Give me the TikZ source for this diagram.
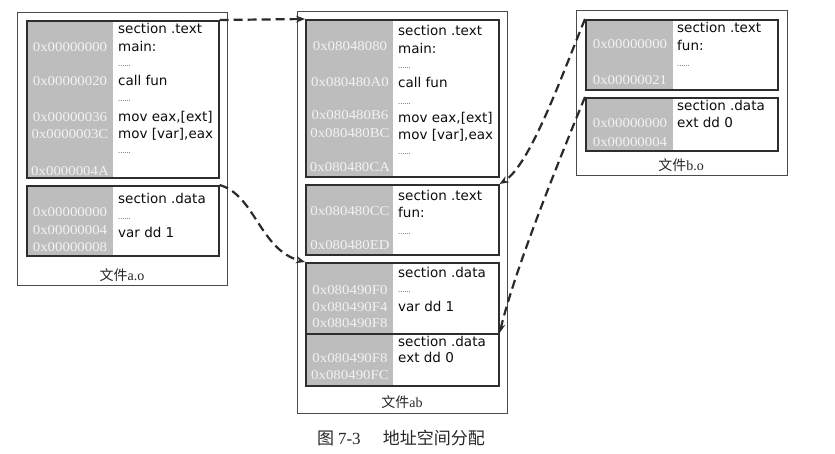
\documentclass[tikz,border=0pt]{standalone}
\usepackage{fontspec}
\setmainfont{Liberation Serif}
\newfontfamily\codefont{DejaVu Sans}
\newfontfamily\addrfont[FakeStretch=1.1]{Liberation Serif}
\newfontfamily\cjk{Noto Sans CJK SC}
\usetikzlibrary{arrows.meta}
\definecolor{graycol}{HTML}{BDBDBD}
\definecolor{addrc}{HTML}{F2F2F2}
\definecolor{boxc}{HTML}{2E2E2E}
\definecolor{outc}{HTML}{4A4A4A}
\definecolor{arrc}{HTML}{2A2A2A}
\tikzset{
  secbox/.style={draw=boxc, line width=1.6pt, anchor=north west, inner sep=0, fill=none},
  filebox/.style={draw=outc, line width=1.1pt, anchor=north west, inner sep=0},
  code/.style={anchor=west, inner sep=0, font=\codefont\fontsize{13.5}{16}\selectfont, text=black!95, text height=11pt, text depth=2pt},
  dots/.style={anchor=base west, inner sep=0, font=\codefont\fontsize{6.5}{7}\selectfont, text=black!85},
  addr/.style={anchor=center, inner sep=0, font=\addrfont\fontsize{13.5}{15}\selectfont, text=addrc, text height=9pt, text depth=0pt},
  lbl/.style={inner sep=0, font=\fontsize{14}{16}\selectfont, text=black!85},
  dasharrow/.style={draw=arrc, line width=2.2pt, dash pattern=on 9pt off 5pt, -{Stealth[length=9pt,width=7pt]}}
}
\begin{document}
\begin{tikzpicture}[x=1pt,y=-1pt]
\useasboundingbox (0,0) rectangle (835,454);
\fill[white] (0,0) rectangle (835,454);
% file boxes
\node[filebox, minimum width=210pt, minimum height=273pt] (afile) at (17,12) {};
\node[filebox, minimum width=210pt, minimum height=402pt] (mfile) at (297,11) {};
\node[filebox, minimum width=211pt, minimum height=165pt] (bfile) at (576,10) {};
% gray columns
\fill[graycol] (26,20) rectangle (113,177);
\fill[graycol] (26,185) rectangle (113,255);
\fill[graycol] (305,19) rectangle (393,176);
\fill[graycol] (305,184) rectangle (393,254);
\fill[graycol] (305,262) rectangle (393,333);
\fill[graycol] (305,333) rectangle (393,385);
\fill[graycol] (585,19) rectangle (673,89);
\fill[graycol] (585,97) rectangle (673,150);
% section boxes
\node[secbox, minimum width=192pt, minimum height=157pt] (atext) at (26,20) {};
\node[secbox, minimum width=192pt, minimum height=70pt] (adata) at (26,185) {};
\node[secbox, minimum width=193pt, minimum height=157pt] (mtext) at (305,19) {};
\node[secbox, minimum width=193pt, minimum height=70pt] (mfun) at (305,184) {};
\node[secbox, minimum width=193pt, minimum height=71pt] (mvar) at (305,262) {};
\node[secbox, minimum width=193pt, minimum height=52pt] (mext) at (305,333) {};
\node[secbox, minimum width=192pt, minimum height=70pt] (btext) at (585,19) {};
\node[secbox, minimum width=192pt, minimum height=53pt] (bdata) at (585,97) {};
% a.o text
\node[code] (a1) at (118,29) {section .text};
\node[code] (a2) at (118,47) {main:};
\node[dots] (a3) at (118,67) {......};
\node[code] (a4) at (118,81) {call fun};
\node[dots] (a5) at (118,102) {......};
\node[code] (a6) at (118,117) {mov eax,[ext]};
\node[code] (a7) at (118,134) {mov [var],eax};
\node[dots] (a8) at (118,154) {......};
\node[addr] (aa1) at (70,47) {0x00000000};
\node[addr] (aa2) at (70,81) {0x00000020};
\node[addr] (aa3) at (70,117) {0x00000036};
\node[addr] (aa4) at (70,134) {0x0000003C};
\node[addr] (aa5) at (70,171) {0x0000004A};
% a.o data
\node[code] (ad1) at (118,199) {section .data};
\node[dots] (ad2) at (118,220) {......};
\node[code] (ad3) at (118,233) {var dd 1};
\node[addr] (ada1) at (70,212) {0x00000000};
\node[addr] (ada2) at (70,230) {0x00000004};
\node[addr] (ada3) at (70,247) {0x00000008};
\node[lbl] (alab) at (122,275) {\cjk 文件\rmfamily a.o};
% ab text
\node[code] (m1) at (398,31) {section .text};
\node[code] (m2) at (398,49) {main:};
\node[dots] (m3) at (398,69) {......};
\node[code] (m4) at (398,83) {call fun};
\node[dots] (m5) at (398,105) {......};
\node[code] (m6) at (398,118) {mov eax,[ext]};
\node[code] (m7) at (398,135) {mov [var],eax};
\node[dots] (m8) at (398,155) {......};
\node[addr] (ma1) at (350,46) {0x08048080};
\node[addr] (ma2) at (350,82) {0x080480A0};
\node[addr] (ma3) at (350,115) {0x080480B6};
\node[addr] (ma4) at (350,133) {0x080480BC};
\node[addr] (ma5) at (350,167) {0x080480CA};
% ab fun
\node[code] (mf1) at (398,196) {section .text};
\node[code] (mf2) at (398,213) {fun:};
\node[dots] (mf3) at (398,235) {......};
\node[addr] (mfa1) at (350,211) {0x080480CC};
\node[addr] (mfa2) at (350,245) {0x080480ED};
% ab var
\node[code] (mv1) at (398,273) {section .data};
\node[dots] (mv2) at (398,292) {......};
\node[code] (mv3) at (398,307) {var dd 1};
\node[addr] (mva1) at (350,290) {0x080490F0};
\node[addr] (mva2) at (350,307) {0x080490F4};
\node[addr] (mva3) at (350,323) {0x080490F8};
% ab ext
\node[code] (me1) at (398,342) {section .data};
\node[code] (me2) at (398,358) {ext dd 0};
\node[addr] (mea1) at (350,358) {0x080490F8};
\node[addr] (mea2) at (350,375) {0x080490FC};
\node[lbl] (mlab) at (402,402) {\cjk 文件\rmfamily ab};
% b.o text
\node[code] (b1) at (677,28) {section .text};
\node[code] (b2) at (677,46) {fun:};
\node[dots] (b3) at (677,67) {......};
\node[addr] (ba1) at (630,44) {0x00000000};
\node[addr] (ba2) at (630,80) {0x00000021};
% b.o data
\node[code] (bd1) at (677,106) {section .data};
\node[code] (bd2) at (677,123) {ext dd 0};
\node[addr] (bda1) at (630,123) {0x00000000};
\node[addr] (bda2) at (630,142) {0x00000004};
\node[lbl] (blab) at (681,165) {\cjk 文件\rmfamily b.o};
% caption
\node[inner sep=0, font=\fontsize{17}{19}\selectfont, text=black!85] (cap) at (401,438) {\cjk 图 \rmfamily 7-3\hspace{1.3em}\cjk 地址空间分配};
% connectors
\draw[dasharrow] (atext.north east) -- (mtext.north west);
\draw[dasharrow] (adata.north east) .. controls (255,195) and (260,250) .. (mvar.north west);
\draw[dasharrow] (btext.north west) .. controls (560,80) and (530,165) .. (mfun.north east);
\draw[dasharrow] (bdata.north west) .. controls (555,170) and (515,270) .. (mext.north east);
\end{tikzpicture}
\end{document}
